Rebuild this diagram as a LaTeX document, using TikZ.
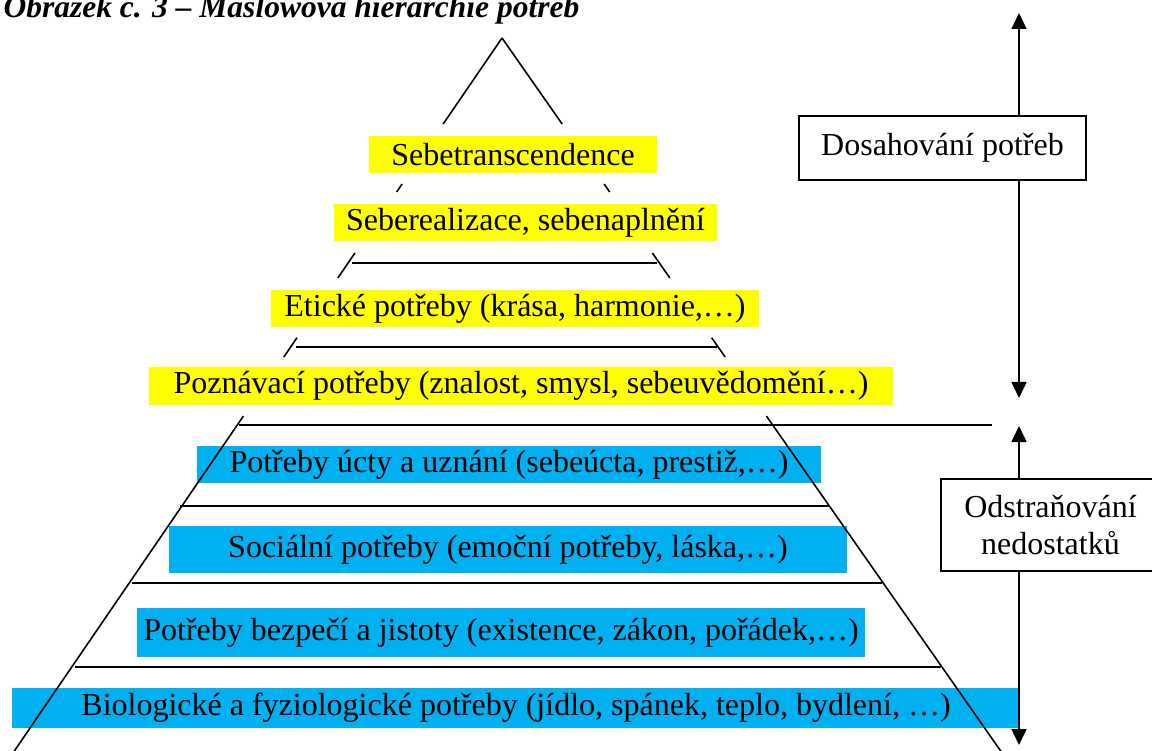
\documentclass[tikz,border=0pt]{standalone}
\usepackage{fontspec}
\setmainfont{Liberation Serif}
\usetikzlibrary{calc,arrows.meta}
\definecolor{growthfill}{RGB}{255,255,0}
\definecolor{deficitfill}{RGB}{0,176,240}

\tikzset{
  edge/.style={line width=1.6pt},
  levelbox/.style={inner sep=0pt, font=\fontsize{32}{37}\selectfont},
  growth/.style={levelbox, fill=growthfill},
  deficit/.style={levelbox, fill=deficitfill},
  sidebox/.style={draw, line width=1.6pt, fill=white, inner sep=0pt,
    align=center, font=\fontsize{32}{37}\selectfont},
  tip/.style={-{Triangle[width=15pt,length=16pt]}}
}

\begin{document}
\begin{tikzpicture}[x=1pt, y=-1pt]
      \clip (0,0) rectangle (1152,751);
      % Title
      \node[anchor=base west, font=\fontsize{31.5}{36}\selectfont\bfseries\itshape] (title) at (0,18)
        {Obrázek č. 3 – Maslowova hierarchie potřeb};
      % Growth needs (yellow)
      \node[growth, minimum width=288, minimum height=37] (transc) at (513,154.5) {Sebetranscendence};
      \node[growth, minimum width=383, minimum height=37] (realiz) at (525.5,222.5) {Seberealizace, sebenaplnění};
      \node[growth, minimum width=488, minimum height=37] (etika) at (515,308.5) {Etické potřeby (krása, harmonie,…)};
      \node[growth, minimum width=744, minimum height=38] (poznani) at (521,386) {Poznávací potřeby (znalost, smysl, sebeuvědomění…)};
      % Deficit needs (blue)
      \node[deficit, minimum width=624, minimum height=37] (ucta) at (509,464.5) {Potřeby úcty a uznání (sebeúcta, prestiž,…)};
      \node[deficit, minimum width=678, minimum height=47] (social) at (508,549.5) {Sociální potřeby (emoční potřeby, láska,…)};
      \node[deficit, minimum width=728, minimum height=49] (bezpeci) at (501,632.5) {Potřeby bezpečí a jistoty (existence, zákon, pořádek,…)};
      \node[deficit, minimum width=1008, minimum height=40] (bio) at (516,708) {Biologické a fyziologické potřeby (jídlo, spánek, teplo, bydlení, …)};
      % Pyramid sides, broken between the levels
      \coordinate (apex) at (502,38);
      \coordinate (baseL) at (15,750);
      \coordinate (baseR) at (1000,750);
      \foreach \ta/\tb in {0/0.1208, 0.2051/0.2163, 0.302/0.337, 0.421/0.448, 0.531/1.02}{
        \draw[edge] ($(apex)!\ta!(baseL)$) -- ($(apex)!\tb!(baseL)$);
        \draw[edge] ($(apex)!\ta!(baseR)$) -- ($(apex)!\tb!(baseR)$);
      }
      % Level separators
      \foreach \y/\xa/\xb in {263/352/657, 347/296/717, 425/239/992, 506/180/829, 583/132/882, 667/75/941}{
        \draw[edge] (\xa,\y) -- (\xb,\y);
      }
      % Side arrows
      \coordinate (uptop) at (1019,13);
      \coordinate (upbot) at (1019,398);
      \coordinate (lowtop) at (1019,426);
      \coordinate (lowbot) at (1019,745);
      \node[sidebox, minimum width=287, minimum height=64] (dosah) at (942.5,148) {Dosahování potřeb};
      \node[sidebox, minimum width=219, minimum height=92] (odstran) at (1050.5,525) {Odstraňování\\nedostatků};
      \draw[edge, tip] (dosah.north -| uptop) -- (uptop);
      \draw[edge, tip] (dosah.south -| upbot) -- (upbot);
      \draw[edge, tip] (odstran.north -| lowtop) -- (lowtop);
      \draw[edge, tip] (odstran.south -| lowbot) -- (lowbot);
    \end{tikzpicture}
\end{document}
